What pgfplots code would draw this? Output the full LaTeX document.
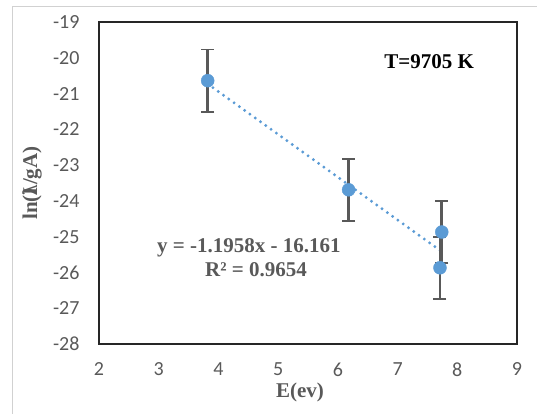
\documentclass[border=0pt]{standalone}
\usepackage{pgfplots}
\pgfplotsset{compat=1.18}
\usepackage{fontspec}
\setmainfont{Liberation Serif}
\newfontfamily\calibri{Carlito}
\definecolor{txtgray}{HTML}{595959}
\definecolor{ptblue}{HTML}{5B9BD5}
\definecolor{ebgray}{HTML}{595959}
\begin{document}
\begin{tikzpicture}[x=1pt,y=1pt]
\useasboundingbox (0,0) rectangle (537,414);
\draw[black!18, line width=1pt] (12,-5) -- (12,407) -- (545,407);
\begin{axis}[
  at={(99pt,70pt)}, anchor=south west,
  scale only axis, width=418pt, height=322pt,
  xmin=2, xmax=9, ymin=-28, ymax=-19,
  xtick={2,...,9}, ytick={-28,-27,...,-19},
  major tick length=0pt,
  axis line style={black!85, line width=1.2pt},
  /pgf/number format/assume math mode=true,
  ticklabel style={font=\calibri\fontsize{20}{22}\selectfont, text=txtgray},
  xticklabel style={yshift=-15pt},
  yticklabel style={xshift=-16pt},
  xlabel={\textbf{E(ev)}},
  ylabel={\textbf{ln(I\kern-0.4em λ/gA)}},
  label style={font=\fontsize{21}{23}\selectfont, text=txtgray},
  xlabel style={at={(axis description cs:0.481,-0.152)}, anchor=center},
  ylabel style={at={(axis description cs:-0.160,0.5)}, anchor=center},
  clip=false,
]
% trendline
\addplot[ptblue, line width=3.2pt, dash pattern=on 0pt off 6.5pt, line cap=round]
  coordinates {(3.82,-20.729) (7.72,-25.393)};
% data with error bars
\addplot[only marks, mark=*, mark size=6.5pt, mark options={draw=ptblue, fill=ptblue},
  error bars/.cd, y dir=both, y explicit,
  error bar style={ebgray, line width=2.6pt},
  error mark options={rotate=90, mark size=6.5pt, line width=1.8pt, ebgray}]
  coordinates {
    (3.82,-20.64) +- (0,0.87)
    (6.18,-23.69) +- (0,0.87)
    (7.74,-24.87) +- (0,0.87)
    (7.71,-25.87) +- (0,0.87)
  };
\node[font=\bfseries\fontsize{21}{23}\selectfont, text=black] at (axis cs:7.53,-20.12) {T=9705 K};
\node[font=\bfseries\fontsize{21}{23}\selectfont, text=txtgray] at (axis cs:4.51,-25.31) {y = -1.1958x - 16.161};
\node[font=\bfseries\fontsize{21}{23}\selectfont, text=txtgray] at (axis cs:4.63,-25.92) {R² = 0.9654};
\end{axis}
\end{tikzpicture}
\end{document}
